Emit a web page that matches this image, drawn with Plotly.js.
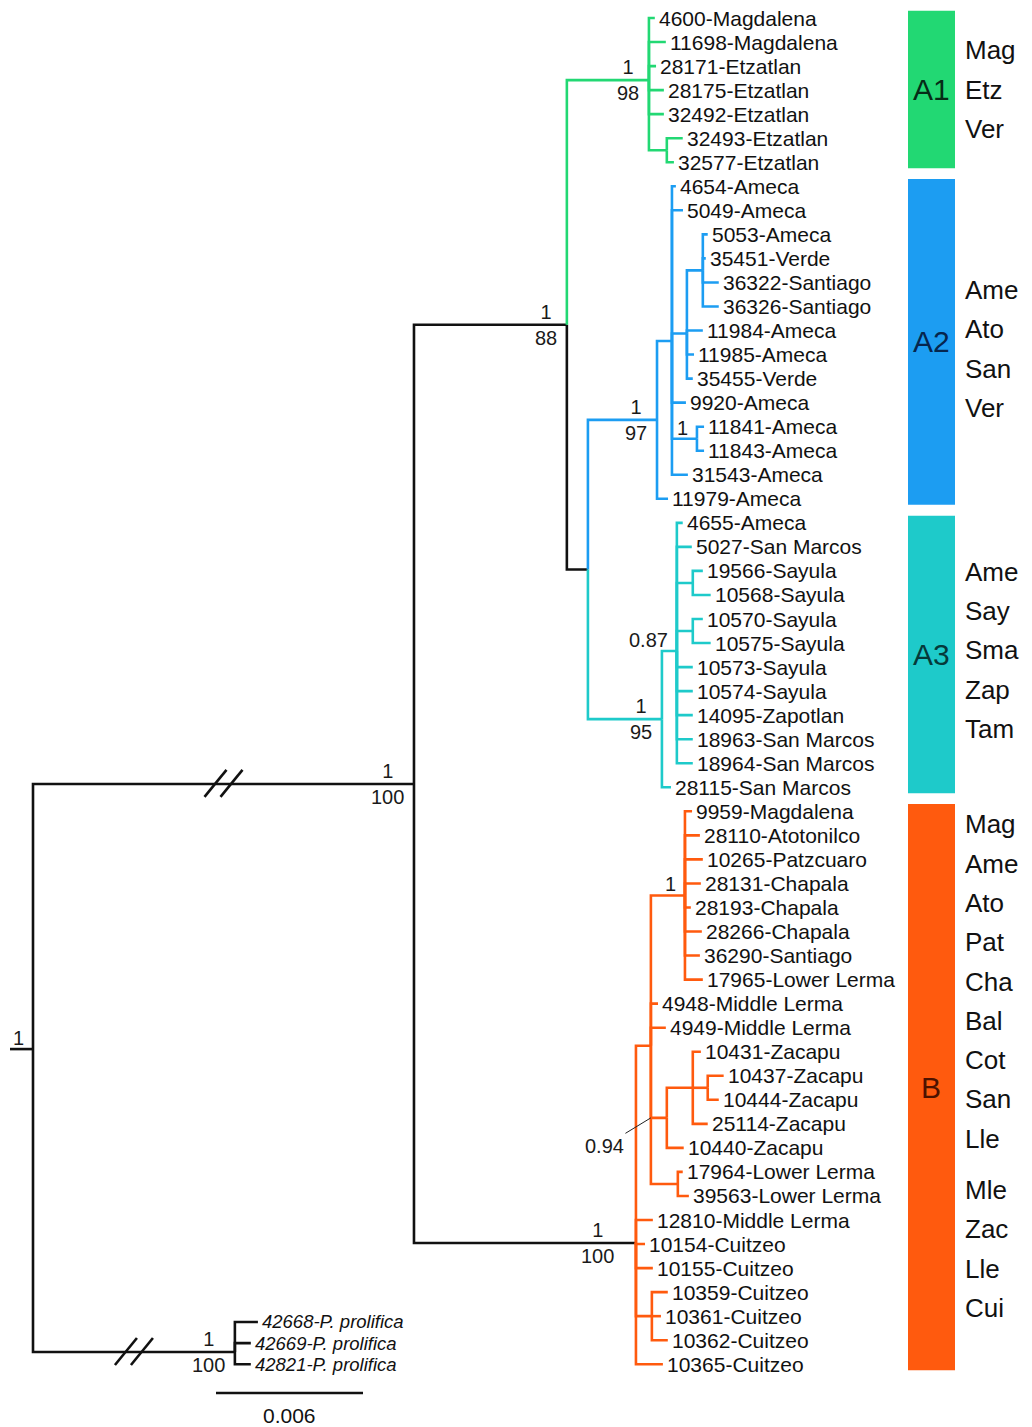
<!DOCTYPE html>
<html><head><meta charset="utf-8">
<script src="https://cdn.plot.ly/plotly-3.0.1.min.js"></script>
<style>html,body{margin:0;padding:0;background:#fff;}#chart{width:1032px;height:1427px;}</style>
</head><body><div id="chart"></div>
<script>
// ---------------- DATA ----------------
// Branch lengths in substitutions/site (long root branches are broken, drawn shortened).
// Node labels: posterior / bootstrap support. Tags in [] mark clades, the outgroup and broken branches.
const newickA1 = "(4600-Magdalena:0.00024,11698-Magdalena:0.00069,28171-Etzatlan:0.00029,28175-Etzatlan:0.00061,32492-Etzatlan:0.00061,(32493-Etzatlan:0.00065,32577-Etzatlan:0.00029):0.00073)1/98[A1]:0.00335";
const newickA2 = "((4654-Ameca:0.00016,5049-Ameca:0.00045,((5053-Ameca:0.00020,35451-Verde:0.00012,36322-Santiago:0.00065,36326-Santiago:0.00065):0.00065,11984-Ameca:0.00065,11985-Ameca:0.00029,35455-Verde:0.00024):0.00061,9920-Ameca:0.00057,(11841-Ameca:0.00029,11843-Ameca:0.00029)1:0.00102,31543-Ameca:0.00065):0.00061,11979-Ameca:0.00045)1/97[A2]:0.00282";
const newickA3 = "((4655-Ameca:0.00024,5027-San Marcos:0.00061,(19566-Sayula:0.00041,10568-Sayula:0.00073):0.00065,(10570-Sayula:0.00041,10575-Sayula:0.00073):0.00065,10573-Sayula:0.00065,10574-Sayula:0.00065,14095-Zapotlan:0.00065,18963-San Marcos:0.00065,18964-San Marcos:0.00065)0.87:0.00061,28115-San Marcos:0.00037)1/95[A3]:0.00302";
const newickB = "(((9959-Magdalena:0.00029,28110-Atotonilco:0.00061,10265-Patzcuaro:0.00073,28131-Chapala:0.00065,28193-Chapala:0.00024,28266-Chapala:0.00069,36290-Santiago:0.00061,17965-Lower Lerma:0.00073)1:0.00139,4948-Middle Lerma:0.00029,4949-Middle Lerma:0.00061,((10431-Zacapu:0.00033,(10437-Zacapu:0.00065,10444-Zacapu:0.00045):0.00061,25114-Zacapu:0.00061):0.00106,10440-Zacapu:0.00069)0.94:0.00065,(17964-Lower Lerma:0.00020,39563-Lower Lerma:0.00045):0.00110):0.00061,12810-Middle Lerma:0.00069,10154-Cuitzeo:0.00037,10155-Cuitzeo:0.00069,(10359-Cuitzeo:0.00065,10361-Cuitzeo:0.00037,10362-Cuitzeo:0.00065):0.00065,10365-Cuitzeo:0.00110)1/100[B]:0.00906";
const newickOutgroup = "(42668-P. prolifica:0.00094,42669-P. prolifica:0.00065,42821-P. prolifica:0.00065)1/100[out,//]:0.00824";
const newickTree = "(((" + newickA1 + ",(" + newickA2 + "," + newickA3 + "):0.00086)1/88:0.00624," + newickB + ")1/100[//]:0.01555," + newickOutgroup + ")1:0.00094;";

const cladeNames = ['A1', 'A2', 'A3', 'B'];
const cladeColors = ['#22D873', '#1C9DF2', '#1ECACA', '#FF5A0E'];
const cladeLetterColors = ['#062c17', '#06264e', '#053a3a', '#4d1200'];
const cladeStemColored = [true, true, true, false];
const cladeRegions = [
  ['Mag', 'Etz', 'Ver'],
  ['Ame', 'Ato', 'San', 'Ver'],
  ['Ame', 'Say', 'Sma', 'Zap', 'Tam'],
  ['Mag', 'Ame', 'Ato', 'Pat', 'Cha', 'Bal', 'Cot', 'San', 'Lle', 'Mle', 'Zac', 'Lle', 'Cui']
];
const regionGapAfter = [null, null, null, 9];
const outgroupRows = [54.24, 55.12, 56.0];
const rootRow = 42.89;
const outgroupNodeRow = 55.49;
const leaderLabels = ['0.94'];
const scaleBarLength = 0.006;
const scaleBarLabel = '0.006';

// ---------------- LAYOUT CONSTANTS ----------------
const FONT = 'Arial, "Liberation Sans", Helvetica, sans-serif';
const PX_PER_UNIT = 24500;          // pixels per substitution/site
const ROW_PX = 24.04, ROW0_PX = 18;
const W = 1032, H = 1427, ROOT_PX = 33;
const regionNudge = [0, 7, -4, -21];
const supportNudge = {B: -12};

// ---------------- PARSER ----------------
function parseNewick(s) {
  let i = 0;
  function node() {
    const n = {children: [], label: '', tags: [], len: 0};
    if (s[i] === '(') {
      i++;
      n.children.push(node());
      while (s[i] === ',') { i++; n.children.push(node()); }
      i++;
    }
    let lab = '';
    while (i < s.length && !'(),:;['.includes(s[i])) { lab += s[i]; i++; }
    n.label = lab.trim();
    if (s[i] === '[') { let t = ''; i++; while (s[i] !== ']') { t += s[i]; i++; } i++; n.tags = t.split(','); }
    if (s[i] === ':') { i++; let v = ''; while (i < s.length && !'(),;'.includes(s[i])) { v += s[i]; i++; } n.len = parseFloat(v); }
    return n;
  }
  return node();
}

const tree = parseNewick(newickTree);
let nextRow = 0, outIdx = 0;
const tips = [], internals = [], cladeTipRows = {};
function layout(n, parent, color, clade, inOut) {
  n.parent = parent;
  n.x = parent ? parent.x + n.len : 0;
  const ct = n.tags.find(t => cladeNames.includes(t));
  let childColor = color;
  if (ct) {
    const ci = cladeNames.indexOf(ct);
    clade = ct; childColor = cladeColors[ci];
    n.color = cladeStemColored[ci] ? childColor : color;
  } else n.color = color;
  if (n.tags.includes('out')) inOut = true;
  n.inOut = inOut; n.clade = clade;
  if (!n.children.length) {
    n.y = inOut ? outgroupRows[outIdx++] : nextRow++;
    tips.push(n);
    if (clade) (cladeTipRows[clade] = cladeTipRows[clade] || []).push(n.y);
  } else {
    n.children.forEach(c => layout(c, n, childColor, clade, inOut));
    n.y = n.children.reduce((s, c) => s + c.y, 0) / n.children.length;
    if (!parent) n.y = rootRow;
    if (n.tags.includes('out')) n.y = outgroupNodeRow;
    internals.push(n);
  }
}
layout(tree, null, '#111111', null, false);

// ---------------- BRANCH TRACES ----------------
const segMap = new Map();
function addSeg(color, xs, ys) {
  if (!segMap.has(color)) segMap.set(color, {x: [], y: []});
  const s = segMap.get(color);
  s.x.push(...xs, null); s.y.push(...ys, null);
}
addSeg('#111111', [-tree.len, 0], [tree.y, tree.y]);
const brokenNodes = [];
(function walk(n) {
  n.children.forEach(c => {
    addSeg(c.color, [n.x, n.x, c.x], [n.y, c.y, c.y]);
    if (c.tags.includes('//')) brokenNodes.push(c);
    walk(c);
  });
})(tree);

const traces = [];
segMap.forEach((s, color) => traces.push({
  type: 'scatter', mode: 'lines', x: s.x, y: s.y, hoverinfo: 'skip', showlegend: false,
  line: {color: color, width: 2.6}
}));
// scale bar
const scaleX0 = (216 - ROOT_PX) / PX_PER_UNIT;
const scaleRow = (1393 - ROW0_PX) / ROW_PX;
traces.push({type: 'scatter', mode: 'lines', x: [scaleX0, scaleX0 + scaleBarLength], y: [scaleRow, scaleRow],
  line: {color: '#111', width: 2.6}, hoverinfo: 'skip', showlegend: false});

// ---------------- ANNOTATIONS & SHAPES ----------------
const annotations = [], shapes = [];
tips.forEach(t => annotations.push({
  x: t.x, y: t.y, text: t.inOut ? '<i>' + t.label + '</i>' : t.label,
  xanchor: 'left', yanchor: 'middle', xshift: 2, showarrow: false,
  font: {family: FONT, size: t.inOut ? 18.5 : 21, color: '#111'}
}));
internals.forEach(n => {
  if (!n.label) return;
  const f = {family: FONT, size: 20, color: '#1a1a1a'};
  const nudge = n.tags.reduce((s, t) => s + (supportNudge[t] || 0), 0);
  if (n.label.includes('/')) {
    annotations.push({x: n.x, y: n.y, text: n.label.replace('/', '<br>'), align: 'center',
      xanchor: 'right', yanchor: 'middle', xshift: -8 + nudge, showarrow: false, font: f});
  } else if (leaderLabels.includes(n.label)) {
    annotations.push({x: n.parent.x, y: n.y, text: n.label, showarrow: true, arrowhead: 0,
      arrowwidth: 1, arrowcolor: '#222', ax: -46, ay: 28, standoff: 0, font: f});
  } else {
    annotations.push({x: n.x, y: n.y, text: n.label, xanchor: 'right', yanchor: 'bottom',
      xshift: -7 + nudge, yshift: -2, showarrow: false, font: f});
  }
});
annotations.push({x: scaleX0 + scaleBarLength / 2, y: (1415 - ROW0_PX) / ROW_PX, text: scaleBarLabel,
  showarrow: false, xanchor: 'center', yanchor: 'middle', font: {family: FONT, size: 21, color: '#111'}});

// broken-branch marks
brokenNodes.forEach(n => {
  const xm = (n.parent.x + n.x) / 2;
  [-8, 8].forEach(dx => shapes.push({type: 'line', xref: 'x', yref: 'y', xsizemode: 'pixel', ysizemode: 'pixel',
    xanchor: xm, yanchor: n.y, x0: dx - 11, x1: dx + 11, y0: -13, y1: 14,
    line: {color: '#111', width: 2.6}}));
});

// clade bars, letters and region labels
const barX0 = 908 / W, barX1 = 955 / W, regX = 963 / W;
cladeNames.forEach((c, ci) => {
  const rows = cladeTipRows[c];
  const r0 = Math.min(...rows) - 0.3, r1 = Math.max(...rows) + 0.25;
  shapes.push({type: 'rect', xref: 'paper', yref: 'y', x0: barX0, x1: barX1, y0: r0, y1: r1,
    fillcolor: cladeColors[ci], line: {width: 0}, layer: 'below'});
  const mid = (r0 + r1) / 2;
  annotations.push({xref: 'paper', x: (barX0 + barX1) / 2, y: mid, text: c, showarrow: false,
    xanchor: 'center', yanchor: 'middle', font: {family: FONT, size: 30, color: cladeLetterColors[ci]}});
  const lines = cladeRegions[ci];
  const pos = []; let acc = 0;
  lines.forEach((l, i) => { if (i > 0) acc += 39.3 + (regionGapAfter[ci] === i ? 12 : 0); pos.push(acc); });
  const center = (pos[0] + pos[pos.length - 1]) / 2;
  lines.forEach((l, i) => annotations.push({xref: 'paper', x: regX, y: mid, yshift: -(pos[i] - center + regionNudge[ci]),
    text: l, showarrow: false, xanchor: 'left', yanchor: 'middle', font: {family: FONT, size: 26, color: '#111'}}));
});

const layoutObj = {
  width: W, height: H, margin: {l: 0, r: 0, t: 0, b: 0},
  paper_bgcolor: '#fff', plot_bgcolor: '#fff', showlegend: false,
  xaxis: {range: [-ROOT_PX / PX_PER_UNIT, (W - ROOT_PX) / PX_PER_UNIT], visible: false, fixedrange: true},
  yaxis: {range: [(H - ROW0_PX) / ROW_PX, -ROW0_PX / ROW_PX], visible: false, fixedrange: true},
  annotations: annotations, shapes: shapes, font: {family: FONT}
};
Plotly.newPlot('chart', traces, layoutObj, {staticPlot: true, displayModeBar: false});
</script></body></html>
